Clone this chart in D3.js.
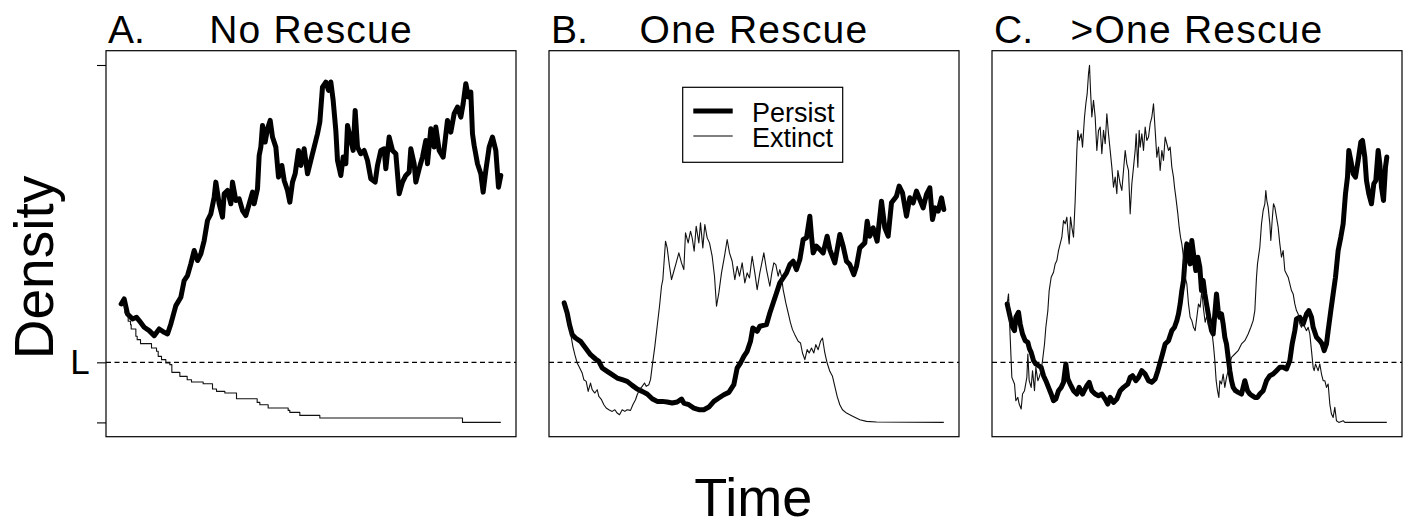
<!DOCTYPE html>
<html><head><meta charset="utf-8">
<script src="https://cdn.jsdelivr.net/npm/d3@7"></script>
<style>
body{margin:0;background:#fff}
svg{display:block}
text{font-family:"Liberation Sans", Arial, Helvetica, sans-serif; fill:#000}
</style>
</head><body>
<svg id="c" width="1410" height="525"></svg>
<script>
// ---------- data (arbitrary time / density units) ----------
const T_MAX = 1139;          // last time step
const Y_TOP = 1071;          // top tick on the density axis
const L_LEVEL = 180;         // threshold L
const panelLetters = ["A.", "B.", "C."];
const panelTitles = ["No Rescue", "One Rescue", ">One Rescue"];
const legendLabels = ["Persist", "Extinct"];
const yTickValues = [0, L_LEVEL, Y_TOP];
const yTickLabels = ["", "L", ""];
const xLabel = "Time";
const yLabel = "Density";

const persistA = [[0,355],[9,370],[19,325],[34,310],[46,315],[54,305],[69,285],[84,275],[99,260],[114,280],[129,270],[139,265],[149,295],[164,350],[179,375],[189,425],[199,440],[209,475],[219,515],[229,485],[239,505],[249,545],[259,605],[269,625],[279,675],[284,720],[294,655],[304,615],[309,685],[319,695],[329,655],[334,720],[344,665],[354,670],[364,635],[374,620],[384,655],[394,690],[399,655],[409,700],[414,800],[419,825],[424,890],[432,840],[439,880],[447,905],[454,855],[464,825],[472,735],[482,770],[489,725],[499,695],[506,660],[514,720],[522,745],[532,815],[539,770],[549,820],[559,745],[569,785],[579,825],[589,865],[596,900],[604,1005],[614,1020],[622,995],[629,1020],[636,965],[644,875],[649,785],[659,740],[666,795],[674,775],[679,890],[689,845],[696,815],[702,935],[709,825],[719,805],[729,815],[739,785],[749,730],[762,720],[769,770],[779,815],[789,820],[794,760],[804,855],[814,815],[824,805],[834,685],[844,720],[854,740],[864,750],[869,820],[879,775],[884,720],[894,760],[904,795],[914,845],[919,775],[929,880],[939,825],[944,885],[954,815],[966,795],[972,845],[979,905],[989,870],[999,925],[1009,945],[1019,915],[1026,955],[1034,1015],[1042,975],[1049,990],[1054,865],[1059,830],[1069,775],[1079,745],[1086,690],[1094,755],[1104,825],[1114,855],[1124,815],[1132,705],[1139,740]];

const extinctA = [[0,355],[11,328],[21,303],[28,293],[30,280],[44,258],[48,248],[58,236],[91,223],[106,213],[111,198],[121,188],[134,178],[146,173],[152,150],[176,138],[198,128],[211,121],[246,116],[274,100],[286,93],[311,88],[346,71],[408,60],[416,53],[441,43],[501,36],[506,30],[536,21],[596,13],[1024,0],[1139,0]];

const persistB = [[0,358],[9,328],[16,293],[24,263],[34,253],[49,243],[64,223],[79,203],[94,190],[104,183],[114,163],[129,153],[144,143],[159,133],[174,128],[189,123],[204,111],[219,100],[234,93],[249,85],[264,71],[279,63],[294,63],[309,61],[324,58],[339,61],[352,70],[359,58],[374,53],[389,43],[404,38],[419,38],[434,46],[449,63],[464,73],[479,83],[494,90],[509,113],[519,163],[529,178],[539,198],[549,213],[559,243],[566,283],[579,273],[587,288],[607,293],[617,328],[627,358],[637,388],[647,418],[657,433],[667,448],[677,473],[687,483],[697,458],[707,488],[717,548],[727,553],[737,618],[742,558],[747,508],[757,528],[767,518],[777,508],[789,558],[797,518],[812,478],[827,563],[837,528],[847,483],[857,473],[869,443],[877,468],[887,523],[902,538],[909,603],[917,558],[927,583],[939,543],[952,663],[962,583],[972,558],[982,658],[997,678],[1005,708],[1015,688],[1027,618],[1037,673],[1047,658],[1057,693],[1067,668],[1077,643],[1087,683],[1097,703],[1105,608],[1113,643],[1122,633],[1132,673],[1139,638]];

const extinctB = [[0,358],[9,323],[19,268],[26,228],[32,203],[39,178],[44,168],[54,148],[59,128],[66,123],[72,93],[79,118],[84,98],[92,88],[99,98],[104,78],[112,68],[119,53],[126,43],[134,38],[144,33],[152,38],[159,28],[166,23],[174,38],[182,33],[189,38],[199,36],[206,53],[214,68],[219,83],[226,98],[234,108],[241,118],[246,108],[254,113],[259,128],[264,168],[272,228],[279,288],[286,348],[292,408],[296,428],[304,543],[309,523],[316,468],[322,428],[329,453],[336,478],[344,508],[352,478],[359,458],[364,568],[372,538],[379,573],[384,553],[390,513],[396,588],[404,538],[409,598],[416,523],[422,593],[429,553],[436,538],[444,498],[451,438],[457,348],[464,388],[472,448],[481,498],[489,548],[496,508],[504,483],[512,428],[519,468],[526,438],[534,478],[542,418],[549,448],[556,433],[564,498],[572,448],[579,398],[587,448],[595,488],[599,508],[607,458],[617,408],[623,448],[629,478],[635,473],[642,438],[647,458],[652,438],[657,398],[665,358],[672,328],[679,298],[685,278],[692,263],[702,243],[709,238],[715,208],[722,188],[729,218],[735,208],[742,223],[749,208],[755,233],[762,218],[769,243],[775,253],[782,208],[789,178],[797,153],[805,138],[812,108],[819,78],[827,53],[835,38],[847,28],[867,18],[887,8],[907,3],[937,1],[1139,0]];

const persistC = [[0,355],[9,315],[16,285],[22,275],[26,315],[34,330],[39,295],[46,265],[54,245],[62,240],[67,220],[72,210],[79,185],[86,175],[94,170],[102,165],[109,140],[116,125],[124,105],[132,85],[139,65],[146,70],[154,95],[162,105],[169,120],[176,175],[182,130],[189,115],[199,95],[209,85],[216,105],[226,85],[239,110],[246,120],[254,95],[264,85],[274,80],[284,85],[294,70],[302,55],[309,75],[319,60],[329,70],[339,95],[349,105],[362,115],[369,135],[376,140],[386,125],[394,135],[404,155],[414,145],[424,125],[434,120],[444,130],[452,155],[459,180],[466,205],[474,235],[484,245],[494,275],[502,285],[509,305],[514,325],[519,355],[524,395],[529,425],[534,495],[539,535],[544,495],[549,475],[554,545],[559,505],[566,455],[572,495],[578,465],[583,395],[588,425],[593,385],[598,355],[605,315],[613,275],[618,265],[623,325],[628,385],[633,335],[638,315],[643,325],[648,295],[653,255],[658,235],[663,195],[668,155],[673,125],[678,105],[685,95],[693,90],[703,85],[713,125],[721,95],[728,85],[735,80],[743,75],[751,75],[758,85],[768,95],[778,125],[788,140],[798,145],[808,155],[818,165],[828,165],[838,160],[848,185],[855,235],[863,275],[868,310],[878,315],[888,295],[898,325],[905,335],[913,315],[918,285],[928,255],[938,245],[945,235],[951,215],[958,235],[963,275],[971,335],[978,385],[985,435],[993,515],[1001,555],[1008,595],[1015,685],[1021,735],[1025,815],[1031,785],[1038,745],[1045,735],[1053,785],[1061,840],[1066,845],[1073,795],[1078,725],[1085,685],[1093,655],[1100,715],[1106,725],[1113,815],[1118,775],[1123,705],[1129,665],[1135,765],[1139,795]];

const extinctC = [[0,355],[4,385],[9,255],[14,135],[22,115],[26,65],[32,75],[36,55],[42,40],[46,85],[52,95],[59,135],[62,205],[66,125],[72,105],[76,155],[82,95],[86,165],[92,125],[96,135],[102,155],[106,185],[112,235],[116,285],[122,335],[126,395],[132,435],[139,450],[144,475],[149,485],[154,515],[159,535],[164,555],[169,605],[174,595],[179,615],[182,575],[186,535],[190,615],[194,585],[199,555],[204,665],[209,815],[212,875],[216,845],[222,865],[226,825],[232,915],[236,955],[240,985],[244,1045],[247,1070],[250,995],[254,915],[259,965],[264,915],[269,815],[274,875],[279,885],[284,805],[289,875],[294,835],[299,925],[304,865],[309,815],[314,765],[319,705],[324,735],[329,685],[332,755],[339,715],[344,695],[349,755],[354,815],[359,775],[364,755],[369,625],[374,715],[379,765],[384,815],[387,865],[392,765],[396,875],[399,825],[404,865],[409,815],[414,885],[419,845],[424,855],[429,895],[434,915],[439,955],[444,875],[449,795],[454,825],[459,755],[464,815],[469,785],[474,855],[479,835],[484,815],[489,825],[494,765],[499,735],[502,705],[506,675],[512,625],[516,585],[520,555],[524,535],[529,495],[534,435],[539,415],[544,355],[549,315],[554,305],[559,285],[564,275],[569,315],[574,355],[579,345],[584,395],[589,340],[594,300],[599,320],[604,290],[609,300],[614,275],[619,230],[623,185],[627,125],[631,95],[635,75],[638,125],[643,115],[648,145],[653,105],[658,135],[663,155],[668,175],[673,195],[683,205],[693,215],[703,235],[713,245],[723,265],[731,285],[738,305],[743,335],[746,395],[748,435],[751,475],[758,525],[763,595],[768,635],[773,655],[776,695],[779,665],[783,645],[788,595],[791,545],[795,605],[799,655],[803,645],[808,615],[813,585],[818,535],[823,495],[828,515],[833,455],[838,445],[843,435],[848,415],[853,395],[858,385],[863,355],[868,335],[873,325],[878,295],[883,285],[888,305],[893,285],[898,275],[903,285],[908,265],[913,215],[918,165],[921,155],[925,175],[929,165],[933,155],[938,175],[943,145],[948,125],[953,125],[958,105],[963,115],[968,55],[973,25],[978,15],[983,45],[988,5],[995,0],[1008,5],[1013,0],[1139,0]];

const persistSeries = [persistA, persistB, persistC];
const extinctSeries = [extinctA, extinctB, extinctC];
const extinctStep = [true, false, false];

// ---------- layout ----------
const svg = d3.select("#c");
const panelLeft = [106, 549, 992];
const panelW = 410, panelTop = 50.7, panelH = 386;

const yScale = d3.scaleLinear()
  .domain([-0.04 * Y_TOP, 1.04 * Y_TOP])
  .range([panelTop + panelH, panelTop]);

panelLeft.forEach((left, i) => {
  const x = d3.scaleLinear()
    .domain([-0.04 * T_MAX, 1.04 * T_MAX])
    .range([left, left + panelW]);
  const g = svg.append("g");

  // threshold line
  g.append("line")
    .attr("x1", left).attr("x2", left + panelW)
    .attr("y1", yScale(L_LEVEL)).attr("y2", yScale(L_LEVEL))
    .attr("stroke", "#000").attr("stroke-width", 1.1)
    .attr("stroke-dasharray", "5,3.5");

  const lineP = d3.line().x(d => x(d[0])).y(d => yScale(d[1]));
  const lineE = d3.line().x(d => x(d[0])).y(d => yScale(d[1]))
    .curve(extinctStep[i] ? d3.curveStepAfter : d3.curveLinear);

  g.append("path").datum(persistSeries[i])
    .attr("d", lineP).attr("fill", "none")
    .attr("stroke", "#000").attr("stroke-width", 5)
    .attr("stroke-linejoin", "round").attr("stroke-linecap", "round");

  g.append("path").datum(extinctSeries[i])
    .attr("d", lineE).attr("fill", "none")
    .attr("stroke", "#111").attr("stroke-width", 1.1)
    .attr("stroke-linejoin", "round");

  // frame
  g.append("rect")
    .attr("x", left).attr("y", panelTop)
    .attr("width", panelW).attr("height", panelH)
    .attr("fill", "none").attr("stroke", "#000").attr("stroke-width", 1.2);

  // titles
  g.append("text").attr("x", left + 2).attr("y", 43.3)
    .attr("font-size", 39).text(panelLetters[i]);
  g.append("text").attr("x", left + panelW / 2).attr("y", 43.3)
    .attr("text-anchor", "middle").attr("font-size", 39)
    .attr("letter-spacing", "1.2px").text(panelTitles[i]);

  if (i === 0) {
    const ax = d3.axisLeft(yScale).tickValues(yTickValues)
      .tickFormat((d, k) => yTickLabels[k]).tickSize(9).tickPadding(7.4);
    const ag = svg.append("g").attr("transform", `translate(${left},0)`).call(ax);
    ag.select(".domain").remove();
    ag.selectAll(".tick line").attr("stroke", "#000").attr("stroke-width", 1.1);
    ag.selectAll(".tick text").attr("font-size", 35)
      .attr("font-family", '"Liberation Sans", Arial, Helvetica, sans-serif').attr("fill", "#000");
  }

  if (i === 1) {
    const lg = g.append("g");
    lg.append("rect").attr("x", 682.7).attr("y", 87.3).attr("width", 160).attr("height", 75)
      .attr("fill", "#fff").attr("stroke", "#000").attr("stroke-width", 1.2);
    const widths = [5, 1.1];
    const ys = [111, 136];
    legendLabels.forEach((lab, k) => {
      lg.append("line").attr("x1", 693.3).attr("x2", 732.7)
        .attr("y1", ys[k]).attr("y2", ys[k])
        .attr("stroke", "#000").attr("stroke-width", widths[k]);
      lg.append("text").attr("x", 752).attr("y", ys[k] + 10.7)
        .attr("font-size", 27).text(lab);
    });
  }
});

// axis titles
svg.append("text").attr("transform", "translate(53.3,267.5) rotate(-90)")
  .attr("text-anchor", "middle").attr("font-size", 55).text(yLabel);
svg.append("text").attr("x", 753.3).attr("y", 516)
  .attr("text-anchor", "middle").attr("font-size", 54).text(xLabel);
</script>
</body></html>
